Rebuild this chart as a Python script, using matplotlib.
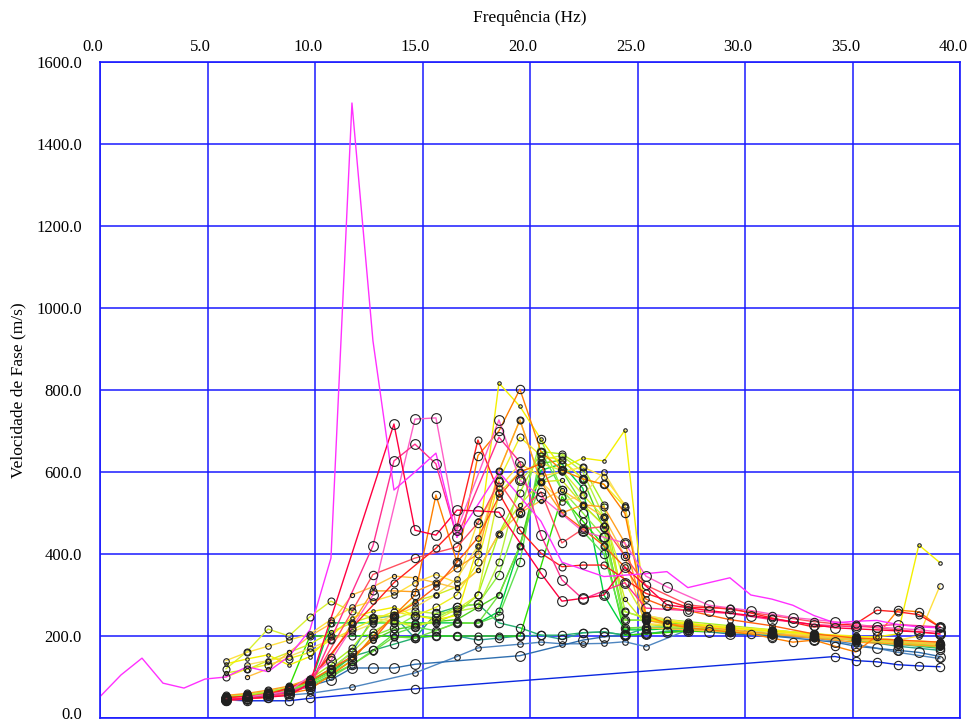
import numpy as np
import matplotlib
matplotlib.use("Agg")
import matplotlib.pyplot as plt
import matplotlib.transforms as mtransforms

plt.rcParams['font.family'] = ['Liberation Serif', 'DejaVu Serif']

df = 1000 / 1024  # frequency step of the picks (Hz)

# dispersion picks: frequency bin index -> phase velocity (m/s)
mag_n = [0, 1, 2, 3, 4, 5, 6, 7, 8, 9, 10, 11, 12, 13, 14, 15, 16, 17, 19, 21, 22, 24,
         26, 27, 28, 29, 30, 31, 32, 33, 34, 35, 36, 37, 38, 39, 40]
mag_v = [52, 105, 146, 85, 73, 95, 100, 125, 113, 150, 215, 390, 1500, 920, 556, 600, 646, 441,
         600, 480, 380, 345, 352, 357, 318, 330, 342, 300, 290, 275, 250, 232, 236, 238, 228, 222, 220]

r1_n = [6, 7, 9, 10, 14, 15, 16, 17, 18, 19, 21, 22, 23, 24, 25, 27, 29, 31, 33, 35, 37, 39, 40]
r1_v = [45, 47, 55, 85, 717, 458, 446, 507, 505, 502, 353, 285, 292, 300, 368, 276, 262, 250, 235, 220, 215, 210, 205]
r2_n = [6, 8, 10, 13, 14, 15, 16, 17, 19, 20, 21, 22, 23, 25, 26, 28, 30, 32, 34, 36, 38, 40]
r2_v = [46, 52, 78, 420, 627, 668, 620, 441, 685, 624, 446, 337, 290, 330, 268, 262, 255, 240, 228, 222, 228, 222]
r3_n = [6, 9, 11, 13, 15, 16, 17, 19, 20, 21, 23, 24, 25, 26, 27, 29, 31, 33, 35, 37, 39, 40]
r3_v = [44, 65, 140, 300, 729, 732, 458, 727, 580, 540, 455, 441, 427, 346, 320, 275, 262, 245, 235, 222, 215, 210]
r4_n = [6, 8, 10, 12, 14, 16, 17, 18, 19, 20, 21, 22, 23, 24, 26, 28, 30, 32, 34, 36, 37, 38, 39, 40]
r4_v = [50, 56, 92, 220, 330, 414, 466, 678, 549, 458, 402, 369, 373, 373, 304, 270, 268, 244, 222, 230, 263, 259, 252, 222]
r5_n = [6, 7, 9, 10, 13, 15, 17, 18, 19, 20, 21, 22, 23, 24, 25, 26, 28, 30, 32, 34, 36, 38, 40]
r5_v = [42, 46, 58, 80, 350, 390, 417, 476, 576, 502, 552, 427, 461, 467, 395, 324, 276, 265, 250, 235, 225, 215, 205]

o1_n = [6, 8, 10, 12, 13, 14, 15, 16, 17, 18, 19, 20, 21, 22, 23, 24, 25, 26, 27, 28, 30, 31, 32, 33,
        34, 35, 36, 37, 38, 39, 40]
o1_v = [44, 50, 70, 140, 200, 250, 300, 544, 380, 640, 700, 802, 650, 604, 583, 570, 499, 250, 230, 220,
        210, 205, 195, 185, 190, 175, 161, 200, 263, 259, 222]
o2_n = [6, 7, 8, 9, 10, 11, 12, 13, 14, 15, 16, 17, 18, 19, 20, 21, 22, 23, 24, 25, 26, 27, 28, 29, 30,
        32, 34, 36, 38, 40]
o2_v = [55, 60, 68, 78, 95, 150, 230, 310, 310, 308, 330, 366, 400, 602, 727, 576, 500, 520, 515, 427,
        238, 230, 225, 220, 215, 205, 195, 185, 180, 175]
o3_n = [7, 8, 9, 10, 11, 12, 13, 14, 15, 16, 17, 18, 19, 20, 21, 22, 24, 25, 26, 28, 30, 32, 34, 36, 38, 40]
o3_v = [100, 120, 160, 200, 230, 300, 320, 346, 342, 330, 317, 360, 450, 500, 530, 556, 490, 395, 220,
        215, 210, 205, 200, 190, 185, 180]
o4_n = [6, 7, 8, 9, 10, 11, 12, 13, 14, 15, 16, 17, 18, 19, 20, 21, 22, 23, 24, 25, 26, 27, 28, 30, 32,
        34, 36, 38, 40]
o4_v = [48, 52, 60, 72, 90, 120, 150, 190, 250, 280, 320, 380, 440, 540, 600, 620, 500, 461, 420, 368,
        290, 270, 262, 240, 225, 205, 195, 190, 185]

y1_n = [6, 7, 8, 9, 10, 11, 12, 13, 14, 15, 16, 17, 18, 19, 20, 21, 22, 23, 24, 25, 26, 27, 28, 30, 32,
        34, 36, 37, 38, 39, 40]
y1_v = [132, 144, 154, 129, 150, 200, 245, 260, 270, 250, 240, 250, 420, 817, 760, 680, 610, 634, 627,
        702, 240, 235, 230, 220, 212, 205, 198, 198, 205, 422, 379]
y2_n = [6, 7, 8, 9, 10, 11, 12, 13, 14, 15, 16, 17, 18, 19, 20, 21, 22, 23, 24, 25, 26, 28, 30, 32, 34,
        36, 38, 39, 40]
y2_v = [140, 160, 175, 190, 205, 240, 270, 285, 300, 330, 350, 330, 480, 560, 620, 590, 600, 612, 589,
        520, 230, 225, 218, 210, 200, 195, 190, 200, 322]
y3_n = [6, 7, 8, 9, 10, 11, 12, 13, 14, 15, 16, 17, 18, 19, 20, 21, 22, 23, 24, 25, 26, 27, 28, 30, 32,
        34, 36, 38, 40]
y3_v = [100, 120, 130, 145, 160, 190, 215, 240, 259, 249, 270, 300, 380, 580, 685, 640, 629, 583, 570,
        515, 250, 240, 230, 222, 215, 205, 200, 190, 185]
y4_n = y3_n
y4_v = [120, 162, 217, 200, 247, 285, 260, 244, 236, 222, 240, 265, 300, 549, 600, 621, 604, 544, 490,
        330, 240, 228, 225, 218, 212, 202, 195, 188, 180]
y5_n = [6, 7, 8, 9, 10, 11, 12, 13, 14, 15, 16, 17, 18, 19, 20, 21, 22, 23, 24, 25, 26, 28, 30, 32, 34,
        36, 38, 40]
y5_v = [110, 118, 140, 160, 180, 210, 232, 249, 249, 285, 300, 320, 360, 450, 520, 576, 580, 520, 470,
        290, 228, 220, 212, 205, 198, 190, 182, 175]
y6_n = [7, 8, 9, 10, 11, 12, 13, 14, 15, 16, 17, 18, 19, 20, 21, 22, 23, 24, 25, 26, 28, 30, 32, 34, 36,
        38, 40]
y6_v = [130, 140, 150, 170, 190, 210, 230, 250, 270, 300, 340, 420, 602, 727, 576, 528, 544, 600, 515,
        250, 232, 222, 212, 205, 198, 190, 184]

full_n = list(range(6, 27)) + [28, 30, 32, 34, 36, 38, 40]
g1_v = [50, 55, 62, 75, 95, 130, 170, 236, 232, 230, 232, 255, 300, 450, 550, 650, 644, 612, 520, 259,
        245, 235, 225, 215, 205, 198, 190, 182]
g2_v = [52, 56, 62, 70, 85, 110, 140, 200, 220, 250, 244, 271, 278, 350, 500, 680, 556, 500, 441, 239,
        238, 230, 222, 212, 205, 196, 188, 180]
g3_v = [50, 53, 58, 66, 80, 100, 130, 162, 198, 195, 213, 232, 231, 300, 420, 576, 604, 520, 470, 219,
        222, 218, 210, 205, 198, 190, 182, 172]
g4_n = [6, 7, 8, 9, 10, 11, 12, 13, 14, 15, 16, 17, 18, 19, 20, 22, 23, 24, 25, 26, 28, 30, 32, 34, 36,
        38, 40]
g4_v = [48, 52, 58, 75, 200, 200, 200, 202, 198, 198, 200, 200, 200, 200, 200, 540, 480, 420, 202, 205,
        212, 210, 205, 200, 190, 185, 178]
g5_v = [46, 50, 56, 64, 78, 232, 232, 232, 232, 232, 232, 232, 231, 260, 420, 604, 620, 560, 300, 215,
        215, 220, 212, 205, 200, 192, 185, 176]
g6_n = [6, 7, 8, 9, 10, 11, 12, 13, 14, 15, 16, 17, 19, 20, 21, 22, 23, 24, 25, 26, 28, 30, 32, 34, 36,
        38, 40]
g6_v = [52, 55, 60, 70, 88, 115, 150, 190, 215, 225, 235, 240, 300, 420, 621, 629, 583, 460, 239, 238,
        228, 220, 212, 205, 195, 188, 180]
g7_n = [6, 7, 8, 9, 10, 12, 13, 14, 15, 16, 17, 18, 19, 20, 21, 22, 23, 24, 25, 26, 28, 30, 32, 34, 36,
        38, 40]
g7_v = [47, 52, 58, 68, 80, 130, 165, 205, 222, 213, 232, 231, 250, 380, 650, 556, 455, 400, 219, 220,
        215, 210, 205, 200, 192, 185, 178]
g8_v = [54, 58, 65, 75, 92, 120, 160, 210, 240, 260, 255, 260, 270, 380, 580, 630, 640, 600, 490, 260,
        242, 230, 222, 214, 205, 196, 186, 178]

t1_n = list(range(6, 29)) + [30, 32, 34, 36, 38, 40]
t1_v = [48, 52, 58, 68, 85, 110, 150, 165, 180, 195, 255, 271, 278, 232, 220, 202, 202, 208, 210, 202,
        205, 212, 215, 210, 205, 198, 190, 180, 170]
t2_v = [50, 54, 60, 70, 90, 120, 160, 244, 249, 195, 200, 200, 190, 195, 200, 202, 192, 208, 210, 202,
        220, 225, 218, 210, 200, 190, 175, 165]

b1_n = [6, 7, 8, 9, 10, 11, 12, 13, 14, 15, 20, 23, 24, 25, 26, 27, 28, 29, 30, 32, 34, 35, 36, 37, 38,
        39, 40]
b1_v = [48, 50, 55, 62, 78, 93, 122, 122, 122, 131, 152, 190, 198, 202, 205, 210, 212, 210, 205, 200,
        190, 185, 175, 170, 165, 160, 150]
b2_n = [6, 8, 10, 12, 15, 17, 18, 20, 21, 22, 23, 24, 25, 26, 28, 30, 32, 34, 36, 38, 40]
b2_v = [50, 52, 60, 75, 110, 150, 171, 180, 185, 181, 181, 182, 186, 174, 215, 210, 200, 195, 180, 160, 145]
b3_n = [6, 7, 9, 10, 15, 35, 36, 37, 38, 39, 40]
b3_v = [44, 42, 42, 48, 71, 150, 140, 137, 130, 127, 125]

# (bins, velocities, line colour, circle size)
curves = [
    (b3_n, b3_v, "#0a28e0", 6), (b2_n, b2_v, "#4f86c0", 4), (b1_n, b1_v, "#2f6fb0", 7),
    (full_n, t2_v, "#2aa090", 6), (t1_n, t1_v, "#25b070", 6),
    (full_n, g5_v, "#00d040", 5), (g4_n, g4_v, "#30e000", 5), (g7_n, g7_v, "#60e050", 6),
    (g6_n, g6_v, "#50d020", 4), (full_n, g3_v, "#70e040", 4), (full_n, g2_v, "#8cf040", 6),
    (full_n, g1_v, "#a8f020", 5), (full_n, g8_v, "#b8f040", 5),
    (y5_n, y5_v, "#d0ec20", 3), (y4_n, y4_v, "#d8f030", 5), (y3_n, y3_v, "#eef020", 5),
    (y6_n, y6_v, "#f8e060", 4), (y2_n, y2_v, "#ffe040", 4), (y1_n, y1_v, "#f4f000", 2.5),
    (o3_n, o3_v, "#ffc040", 3), (o2_n, o2_v, "#ffa020", 5), (o1_n, o1_v, "#ff8000", 6),
    (o4_n, o4_v, "#ff6010", 4),
    (r5_n, r5_v, "#ff5060", 6), (r4_n, r4_v, "#ff2020", 5), (r3_n, r3_v, "#ff60c8", 7),
    (r2_n, r2_v, "#ff3090", 7), (r1_n, r1_v, "#ff0040", 7),
    (mag_n, mag_v, "#ff30ff", 0),
]

fig = plt.figure(figsize=(9.71, 7.24), dpi=100)
ax = fig.add_axes([100 / 971, 6 / 724, 860 / 971, 656 / 724])

for n, v, c, ms in curves:
    f = np.array(n) * df
    ax.plot(f, v, color=c, lw=1.0, zorder=2)
for n, v, c, ms in curves:
    if ms > 0:
        ax.plot(np.array(n) * df, v, ls="none", marker="o", ms=ms, mfc="none",
                mec="#202020", mew=0.8, zorder=3)

ax.set_xlim(0, 40)
ax.set_ylim(0, 1600)
ax.set_xticks(np.arange(0, 41, 5))
ax.set_yticks(np.arange(0, 1601, 200))
ax.xaxis.set_major_formatter(plt.FormatStrFormatter("%.1f"))
ax.yaxis.set_major_formatter(plt.FormatStrFormatter("%.1f"))
ax.xaxis.tick_top()
ax.tick_params(axis="x", length=0, pad=5, labelsize=12)
ax.tick_params(axis="y", length=0, pad=13, labelsize=12)
ax.grid(True, color="#1a1aff", lw=1.1, zorder=1)
ax.set_axisbelow(True)
for s in ax.spines.values():
    s.set_color("#1a1aff")
    s.set_linewidth(1.2)

shift = mtransforms.ScaledTranslation(-0.07, 0, fig.dpi_scale_trans)
for lab in ax.get_xticklabels():
    lab.set_transform(lab.get_transform() + shift)
# keep the bottom "0.0" label inside the canvas
lift = mtransforms.ScaledTranslation(0, 0.05, fig.dpi_scale_trans)
ylabs = ax.get_yticklabels()
ylabs[0].set_transform(ylabs[0].get_transform() + lift)

fig.text(530 / 971, 1 - 18 / 724, "Frequência (Hz)", ha="center", va="center", fontsize=12.5)
fig.text(18 / 971, 1 - 390 / 724, "Velocidade de Fase (m/s)", rotation=90,
         ha="center", va="center", fontsize=12.5)

fig.savefig("out.png", dpi=100)
